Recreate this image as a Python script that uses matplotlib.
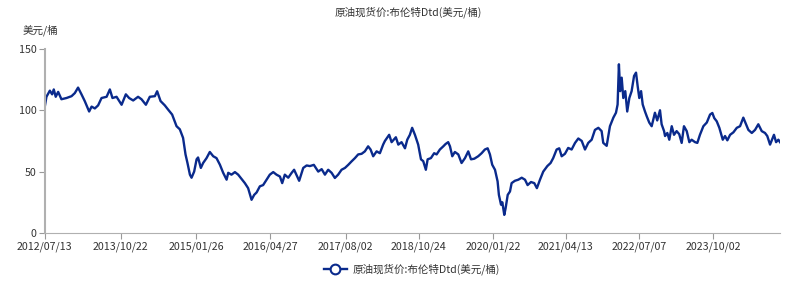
import matplotlib
matplotlib.use("Agg")
import matplotlib.pyplot as plt
import pandas as pd

plt.rcParams['font.family'] = ['Noto Sans CJK SC', 'DejaVu Sans']

# values
dates = [
    "2012-07-13", "2012-07-23", "2012-08-13", "2012-08-27", "2012-09-06", "2012-09-18",
    "2012-10-03", "2012-10-23", "2012-11-23", "2012-12-24", "2013-01-13", "2013-02-02",
    "2013-02-23", "2013-03-15", "2013-04-11", "2013-04-26", "2013-05-16", "2013-06-05",
    "2013-06-26", "2013-07-27", "2013-08-16", "2013-09-01", "2013-09-26", "2013-10-27",
    "2013-11-22", "2013-12-12", "2014-01-06", "2014-02-05", "2014-02-26", "2014-03-25",
    "2014-04-18", "2014-05-19", "2014-06-02", "2014-06-23", "2014-07-19", "2014-08-08",
    "2014-09-02", "2014-09-29", "2014-10-19", "2014-11-08", "2014-11-23", "2014-12-05",
    "2014-12-20", "2014-12-30", "2015-01-15", "2015-01-30", "2015-02-08", "2015-02-25",
    "2015-03-11", "2015-04-01", "2015-04-21", "2015-05-12", "2015-06-01", "2015-06-22",
    "2015-07-12", "2015-08-02", "2015-08-12", "2015-09-01", "2015-09-22", "2015-10-12",
    "2015-11-05", "2015-11-22", "2015-12-12", "2016-01-02", "2016-01-18", "2016-02-02",
    "2016-02-22", "2016-03-13", "2016-04-03", "2016-04-23", "2016-05-14", "2016-06-03",
    "2016-06-24", "2016-07-08", "2016-07-24", "2016-08-14", "2016-09-04", "2016-09-19",
    "2016-10-20", "2016-11-14", "2016-12-05", "2016-12-25", "2017-01-18", "2017-02-14",
    "2017-03-07", "2017-03-27", "2017-04-16", "2017-05-07", "2017-05-27", "2017-06-16",
    "2017-07-07", "2017-07-28", "2017-08-17", "2017-09-07", "2017-09-27", "2017-10-17",
    "2017-11-07", "2017-11-27", "2017-12-17", "2018-01-01", "2018-01-17", "2018-02-07",
    "2018-02-27", "2018-03-19", "2018-03-30", "2018-04-25", "2018-05-10", "2018-06-05",
    "2018-06-20", "2018-07-10", "2018-07-31", "2018-08-14", "2018-08-30", "2018-09-13",
    "2018-09-30", "2018-10-20", "2018-11-06", "2018-11-20", "2018-12-06", "2018-12-17",
    "2019-01-06", "2019-01-26", "2019-02-10", "2019-03-02", "2019-03-23", "2019-04-06",
    "2019-04-22", "2019-05-03", "2019-05-17", "2019-06-02", "2019-06-23", "2019-07-13",
    "2019-08-03", "2019-08-23", "2019-09-09", "2019-09-29", "2019-10-23", "2019-11-13",
    "2019-12-03", "2019-12-20", "2020-01-03", "2020-01-17", "2020-02-03", "2020-02-19",
    "2020-02-27", "2020-03-11", "2020-03-19", "2020-03-31", "2020-04-08", "2020-04-21",
    "2020-05-05", "2020-05-15", "2020-06-04", "2020-06-25", "2020-07-16", "2020-08-05",
    "2020-08-21", "2020-09-11", "2020-10-01", "2020-10-17", "2020-11-05", "2020-11-25",
    "2020-12-20", "2021-01-09", "2021-01-25", "2021-02-15", "2021-03-03", "2021-03-18",
    "2021-04-07", "2021-04-27", "2021-05-18", "2021-06-08", "2021-06-28", "2021-07-19",
    "2021-08-08", "2021-08-28", "2021-09-18", "2021-10-08", "2021-10-29", "2021-11-18",
    "2021-11-28", "2021-12-19", "2022-01-08", "2022-01-29", "2022-02-14", "2022-02-24",
    "2022-03-04", "2022-03-12", "2022-03-21", "2022-03-31", "2022-04-12", "2022-04-24",
    "2022-05-07", "2022-05-21", "2022-06-05", "2022-06-17", "2022-06-27", "2022-07-07",
    "2022-07-18", "2022-07-28", "2022-08-11", "2022-08-22", "2022-09-06", "2022-09-21",
    "2022-10-11", "2022-10-25", "2022-11-11", "2022-11-21", "2022-12-06", "2022-12-12",
    "2022-12-26", "2023-01-07", "2023-01-22", "2023-02-05", "2023-02-21", "2023-03-09",
    "2023-03-24", "2023-04-07", "2023-04-24", "2023-05-10", "2023-05-24", "2023-06-14",
    "2023-06-28", "2023-07-14", "2023-08-04", "2023-08-25", "2023-09-14", "2023-09-28",
    "2023-10-10", "2023-10-25", "2023-11-10", "2023-12-01", "2023-12-15", "2023-12-29",
    "2024-01-15", "2024-02-04", "2024-02-25", "2024-03-16", "2024-04-05", "2024-04-22",
    "2024-05-06", "2024-05-27", "2024-06-16", "2024-07-06", "2024-07-27", "2024-08-16",
    "2024-08-30", "2024-09-16", "2024-10-02", "2024-10-10", "2024-10-23", "2024-11-06",
    "2024-11-16",
]
brent = [
    103, 111, 116, 113, 117, 111,
    115, 109, 110, 111.5, 114, 118.5,
    113, 107.5, 99, 103, 101.5, 104,
    110, 111, 117, 110, 111, 104.5,
    113, 110, 108, 111, 109, 104.5,
    111, 111.5, 115.5, 107.5, 104, 100.6,
    96.5, 87, 84.5, 77.5, 64, 57,
    47.5, 45, 50, 60, 61.5, 53,
    57, 61, 66, 62.5, 61, 55.6,
    49, 43.4, 49, 47.5, 49.6, 47.5,
    43.4, 40.6, 36.5, 27, 31, 33,
    38, 39, 43.4, 47.5, 49.6, 47.5,
    46, 40.6, 47.5, 45, 49, 51.5,
    42.5, 53, 55, 54.5, 55.5, 50,
    52, 47.5, 51.5, 49, 44.8, 47.5,
    51.5, 53, 55.5, 58.4, 61, 64,
    64.5, 66.5, 70.6, 68, 62.5, 66.5,
    65, 72, 75, 80, 74, 78,
    72, 74, 69, 76, 80, 85.7,
    80, 72, 60, 58.5, 51.5, 60,
    61, 65, 64, 68, 70.6, 72.5,
    74, 70.6, 62.5, 66, 64, 57,
    61, 66.5, 60, 60.5, 62.5, 65,
    68, 69, 64, 55.6, 51.5, 42,
    31, 23, 25, 14.7, 20, 31,
    33.8, 40.6, 42.5, 43.4, 45, 43.4,
    39, 41.5, 40.6, 36.5, 43.4, 50,
    54.5, 57, 61, 68, 69, 62.5,
    64.5, 69.3, 68, 73.4, 77, 75,
    68, 73.4, 76, 84, 85.7, 83,
    73.4, 71, 87, 94, 98, 104.7,
    137.5, 115.6, 126.6, 110, 115.6, 99,
    110, 115.6, 128, 130.7, 119.7, 110,
    115.6, 104.7, 99, 95, 90, 87,
    98, 91.7, 100, 88.6, 83, 79,
    81.5, 76, 87, 80, 83, 80.5,
    73.4, 87, 83, 74, 76, 74,
    73.4, 80, 87, 90, 96.5, 97.8,
    93.6, 91, 85.7, 76, 79, 75.5,
    80, 82, 85.7, 87, 94, 88.6,
    84, 81.5, 84, 88.6, 83, 81.5,
    79, 72, 77.5, 80, 74, 76,
    74,
]
tick_labels = ["2012/07/13", "2013/10/22", "2015/01/26", "2016/04/27", "2017/08/02",
               "2018/10/24", "2020/01/22", "2021/04/13", "2022/07/07", "2023/10/02"]
series_name = "原油现货价:布伦特Dtd(美元/桶)"

x = pd.to_datetime(dates)
ticks = pd.to_datetime(tick_labels, format="%Y/%m/%d")

fig = plt.figure(figsize=(8, 2.83), dpi=100)
ax = fig.add_axes([0.056, 0.177, 0.919, 0.65])

line_color = "#0a2a8c"
ax.plot(x, brent, color=line_color, linewidth=1.7)

ax.set_ylim(0, 150)
ax.set_yticks([0, 50, 100, 150])
ax.set_xlim(pd.Timestamp("2012-07-13"), pd.Timestamp("2024-11-16"))
ax.set_xticks(ticks)
ax.set_xticklabels(tick_labels)

for side in ["top", "right"]:
    ax.spines[side].set_visible(False)
ax.spines["left"].set_color("#b0b0b0")
ax.spines["bottom"].set_color("#b0b0b0")
ax.spines["left"].set_linewidth(1.5)
ax.tick_params(axis="both", colors="#999999", labelcolor="#333333",
               labelsize=7.7, length=4, direction="out", pad=2)

fig.text(0.51, 0.957, series_name, ha="center", va="center",
         fontsize=7.6, color="#333333")
fig.text(0.028, 0.893, "美元/桶", ha="left", va="center", fontsize=7.6, color="#333333")

# legend: line with open circle marker
leg_line, = ax.plot([], [], color=line_color, linewidth=1.7, marker="o", markersize=7,
                    markerfacecolor="white", markeredgecolor=line_color,
                    markeredgewidth=1.5)
fig.legend([leg_line], [series_name], loc="center",
           bbox_to_anchor=(0.515, 0.048), frameon=False, fontsize=7.6,
           handlelength=2.2, handletextpad=0.6, labelcolor="#333333")

fig.savefig("out.png", dpi=100)
